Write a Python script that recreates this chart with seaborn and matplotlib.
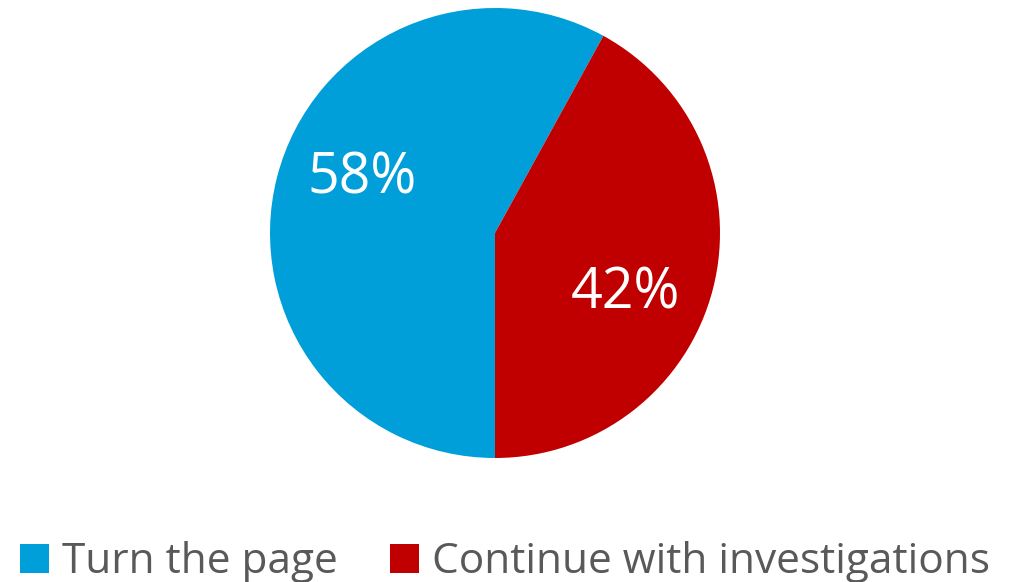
import matplotlib
matplotlib.use("Agg")
import matplotlib.pyplot as plt
from matplotlib.patches import Patch
import seaborn as sns

labels = ["Turn the page", "Continue with investigations"]
shares = [58, 42]
colors = ["#009fda", "#c00000"]

sns.set_theme(style="white")
plt.rcParams["font.family"] = ["Open Sans", "DejaVu Sans"]

fig = plt.figure(figsize=(10.12, 5.82), dpi=100)
# pie: centre ~ (495, 233) px, radius ~225 px
ax = fig.add_axes([270 / 1012, (582 - 458) / 582, 450 / 1012, 450 / 582])
wedges, _, autotexts = ax.pie(
    shares, colors=sns.color_palette(colors), startangle=-90,
    counterclock=False, autopct="%d%%", pctdistance=0.63,
    wedgeprops={"linewidth": 0},
    textprops={"color": "white", "fontsize": 40},
)
# nudge the labels the way the original places them
autotexts[0].set_position((-0.59, 0.24))
autotexts[1].set_position((0.58, -0.27))
ax.set_xlim(-1, 1)
ax.set_ylim(-1, 1)
ax.set_aspect("equal")
ax.axis("off")

handles = [Patch(facecolor=c, edgecolor="none") for c in colors]
fig.legend(handles, labels, loc="center", bbox_to_anchor=(0.499, 1 - 562 / 582),
           ncol=2, frameon=False, fontsize=30.5, labelcolor="#595959",
           handlelength=0.68, handleheight=0.68, handletextpad=0.3,
           columnspacing=1.25)

fig.savefig("out.png", dpi=100)
